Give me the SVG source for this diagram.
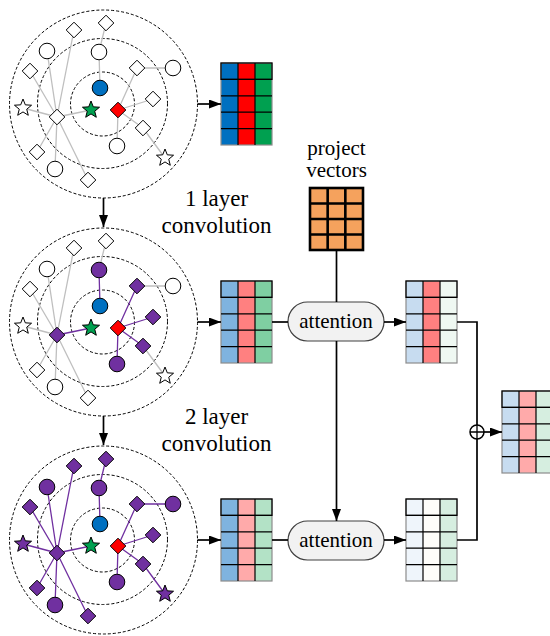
<svg xmlns="http://www.w3.org/2000/svg" xmlns:xlink="http://www.w3.org/1999/xlink" width="550" height="636" viewBox="0 0 550 636">
<style>
.ring{fill:none;stroke:#000;stroke-width:1;stroke-dasharray:3 2}
.eg{fill:none;stroke:#BFBFBF;stroke-width:1.3}
.ep{fill:none;stroke:#7030A0;stroke-width:1.3}
.nw{fill:#fff;stroke:#000;stroke-width:1}
.np{fill:#7030A0;stroke:#000;stroke-width:1}
.nb{fill:#0070C0;stroke:#000;stroke-width:1}
.ng{fill:#00A050;stroke:#000;stroke-width:1}
.nr{fill:#FF0000;stroke:#000;stroke-width:1}
.mout{fill:none;stroke:#8C8C8C;stroke-width:1.2}
.mgrid{fill:none;stroke:#000;stroke-width:1.2}
.conn{fill:none;stroke:#000;stroke-width:1.7}
.lbl{font-family:"Liberation Serif","Times New Roman",serif;fill:#000;text-anchor:middle}
.att{fill:#F2F2F2;stroke:#404040;stroke-width:1.2}
</style>
<defs>
<polygon id="star" points="0,-9 2.3,-3.17 8.56,-2.78 3.73,1.21 5.29,7.28 0,3.92 -5.29,7.28 -3.73,1.21 -8.56,-2.78 -2.3,-3.17"/>
<polygon id="dia" points="0,-7.8 7.8,0 0,7.8 -7.8,0"/>
<marker id="ah" markerWidth="12" markerHeight="9" refX="12" refY="4.5" orient="auto" markerUnits="userSpaceOnUse"><path d="M0,0 L12,4.5 L0,9 z" fill="#000"/></marker>
</defs>

<!-- Graph 0: input -->
<g id="graph-input">
<circle class="ring" cx="103.5" cy="104" r="94"/>
<circle class="ring" cx="102.5" cy="103.5" r="65"/>
<circle class="ring" cx="102.5" cy="104" r="32"/>
<path class="eg" d="M57,117L23,108M57,117L30,71M57,117L47,51M57,117L74,30M57,117L37,152M57,117L55,169M57,117L88,180M57,117L91,110M100,88L99,52M99,52L106,23M118,110L137,68M118,110L153,99M118,110L143,128M118,110L117,146M137,68L173,68M143,128L165,158"/>
<circle class="nw" cx="47" cy="51" r="7.8"/>
<circle class="nw" cx="99" cy="52" r="7.8"/>
<circle class="nw" cx="173" cy="68" r="7.8"/>
<circle class="nw" cx="117" cy="146" r="7.8"/>
<circle class="nw" cx="55" cy="169" r="7.8"/>
<use href="#dia" class="nw" x="74" y="30"/>
<use href="#dia" class="nw" x="106" y="23"/>
<use href="#dia" class="nw" x="30" y="71"/>
<use href="#dia" class="nw" x="137" y="68"/>
<use href="#dia" class="nw" x="153" y="99"/>
<use href="#dia" class="nw" x="143" y="128"/>
<use href="#dia" class="nw" x="37" y="152"/>
<use href="#dia" class="nw" x="88" y="180"/>
<use href="#dia" class="nw" x="57" y="117"/>
<use href="#star" class="nw" x="23" y="108"/>
<use href="#star" class="nw" x="165" y="158"/>
<circle class="nb" cx="100" cy="88" r="7.8"/>
<use href="#star" class="ng" x="91" y="110"/>
<use href="#dia" class="nr" x="118" y="110"/>
</g>

<!-- Graph 1: 1 layer -->
<g id="graph-layer1" transform="translate(0,218)">
<circle class="ring" cx="103.5" cy="104" r="94"/>
<circle class="ring" cx="102.5" cy="103.5" r="65"/>
<circle class="ring" cx="102.5" cy="104" r="32"/>
<path class="eg" d="M57,117L23,108M57,117L30,71M57,117L47,51M57,117L74,30M57,117L37,152M57,117L55,169M57,117L88,180M99,52L106,23M137,68L173,68M143,128L165,158"/>
<path class="ep" d="M57,117L91,110M100,88L99,52M118,110L137,68M118,110L153,99M118,110L143,128M118,110L117,146"/>
<circle class="nw" cx="47" cy="51" r="7.8"/>
<circle class="np" cx="99" cy="52" r="7.8"/>
<circle class="nw" cx="173" cy="68" r="7.8"/>
<circle class="np" cx="117" cy="146" r="7.8"/>
<circle class="nw" cx="55" cy="169" r="7.8"/>
<use href="#dia" class="nw" x="74" y="30"/>
<use href="#dia" class="nw" x="106" y="23"/>
<use href="#dia" class="nw" x="30" y="71"/>
<use href="#dia" class="np" x="137" y="68"/>
<use href="#dia" class="np" x="153" y="99"/>
<use href="#dia" class="np" x="143" y="128"/>
<use href="#dia" class="nw" x="37" y="152"/>
<use href="#dia" class="nw" x="88" y="180"/>
<use href="#dia" class="np" x="57" y="117"/>
<use href="#star" class="nw" x="23" y="108"/>
<use href="#star" class="nw" x="165" y="158"/>
<circle class="nb" cx="100" cy="88" r="7.8"/>
<use href="#star" class="ng" x="91" y="110"/>
<use href="#dia" class="nr" x="118" y="110"/>
</g>

<!-- Graph 2: 2 layer -->
<g id="graph-layer2" transform="translate(0,436)">
<circle class="ring" cx="103.5" cy="104" r="94"/>
<circle class="ring" cx="102.5" cy="103.5" r="65"/>
<circle class="ring" cx="102.5" cy="104" r="32"/>
<path class="ep" d="M57,117L23,108M57,117L30,71M57,117L47,51M57,117L74,30M57,117L37,152M57,117L55,169M57,117L88,180M57,117L91,110M100,88L99,52M99,52L106,23M118,110L137,68M118,110L153,99M118,110L143,128M118,110L117,146M137,68L173,68M143,128L165,158"/>
<circle class="np" cx="47" cy="51" r="7.8"/>
<circle class="np" cx="99" cy="52" r="7.8"/>
<circle class="np" cx="173" cy="68" r="7.8"/>
<circle class="np" cx="117" cy="146" r="7.8"/>
<circle class="np" cx="55" cy="169" r="7.8"/>
<use href="#dia" class="np" x="74" y="30"/>
<use href="#dia" class="np" x="106" y="23"/>
<use href="#dia" class="np" x="30" y="71"/>
<use href="#dia" class="np" x="137" y="68"/>
<use href="#dia" class="np" x="153" y="99"/>
<use href="#dia" class="np" x="143" y="128"/>
<use href="#dia" class="np" x="37" y="152"/>
<use href="#dia" class="np" x="88" y="180"/>
<use href="#dia" class="np" x="57" y="117"/>
<use href="#star" class="np" x="23" y="108"/>
<use href="#star" class="np" x="165" y="158"/>
<circle class="nb" cx="100" cy="88" r="7.8"/>
<use href="#star" class="ng" x="91" y="110"/>
<use href="#dia" class="nr" x="118" y="110"/>
</g>

<!-- Labels -->
<g id="label-layer1">
<text class="lbl" x="216.5" y="206" font-size="23">1 layer</text>
<text class="lbl" x="216.5" y="233" font-size="23">convolution</text>
</g>
<g id="label-layer2">
<text class="lbl" x="216.5" y="424" font-size="23">2 layer</text>
<text class="lbl" x="216.5" y="451" font-size="23">convolution</text>
</g>
<g id="label-project">
<text class="lbl" x="336.5" y="155" font-size="21">project</text>
<text class="lbl" x="336.5" y="177" font-size="21">vectors</text>
</g>

<!-- Matrices -->
<g id="matrix-input" transform="translate(221,63)">
<rect x="0" width="17" height="82" fill="#0070C0"/>
<rect x="17" width="17" height="82" fill="#FF0000"/>
<rect x="34" width="17" height="82" fill="#00A050"/>
<rect class="mout" width="51" height="82"/>
<path class="mgrid" d="M17,0V82M34,0V82M0,16.4H51M0,32.8H51M0,49.2H51M0,65.6H51"/>
<rect class="mgrid" width="51" height="16.4"/>
</g>
<g id="matrix-layer1" transform="translate(221,281)">
<rect x="0" width="17" height="82" fill="#7FB3DF"/>
<rect x="17" width="17" height="82" fill="#FF8080"/>
<rect x="34" width="17" height="82" fill="#7FCFA2"/>
<rect class="mout" width="51" height="82"/>
<path class="mgrid" d="M17,0V82M34,0V82M0,16.4H51M0,32.8H51M0,49.2H51M0,65.6H51"/>
<rect class="mgrid" width="51" height="16.4"/>
</g>
<g id="matrix-layer2" transform="translate(221,499)">
<rect x="0" width="17" height="82" fill="#7FB3DF"/>
<rect x="17" width="17" height="82" fill="#FFAAAA"/>
<rect x="34" width="17" height="82" fill="#B3E2C6"/>
<rect class="mout" width="51" height="82"/>
<path class="mgrid" d="M17,0V82M34,0V82M0,16.4H51M0,32.8H51M0,49.2H51M0,65.6H51"/>
<rect class="mgrid" width="51" height="16.4"/>
</g>
<g id="matrix-att1" transform="translate(406,281)">
<rect x="0" width="17" height="82" fill="#C7DCF0"/>
<rect x="17" width="17" height="82" fill="#FF8080"/>
<rect x="34" width="17" height="82" fill="#EFF8F2"/>
<rect class="mout" width="51" height="82"/>
<path class="mgrid" d="M17,0V82M34,0V82M0,16.4H51M0,32.8H51M0,49.2H51M0,65.6H51"/>
<rect class="mgrid" width="51" height="16.4"/>
</g>
<g id="matrix-att2" transform="translate(406,499)">
<rect x="0" width="17" height="82" fill="#EFF5FB"/>
<rect x="17" width="17" height="82" fill="#FEFDFA"/>
<rect x="34" width="17" height="82" fill="#D6EEE0"/>
<rect class="mout" width="51" height="82"/>
<path class="mgrid" d="M17,0V82M34,0V82M0,16.4H51M0,32.8H51M0,49.2H51M0,65.6H51"/>
<rect class="mgrid" width="51" height="16.4"/>
</g>
<g id="matrix-result" transform="translate(502,391)">
<rect x="0" width="17" height="82" fill="#C7DCF0"/>
<rect x="17" width="17" height="82" fill="#FFAAAA"/>
<rect x="34" width="17" height="82" fill="#D6EEE0"/>
<rect class="mout" width="51" height="82"/>
<path class="mgrid" d="M17,0V82M34,0V82M0,16.4H51M0,32.8H51M0,49.2H51M0,65.6H51"/>
<rect class="mgrid" width="51" height="16.4"/>
</g>
<g id="matrix-project" transform="translate(310,188)">
<rect width="53" height="62" fill="#F5A25D"/>
<path fill="none" stroke="#000" stroke-width="2.6" d="M17.67,0V62M35.33,0V62M0,15.5H53M0,31H53M0,46.5H53"/>
<rect width="53" height="62" fill="none" stroke="#000" stroke-width="2.6"/>
</g>

<!-- Attention -->
<g id="attention1">
<rect class="att" x="288" y="302" width="96" height="39" rx="19.5"/>
<text class="lbl" x="336" y="328" font-size="21">attention</text>
</g>
<g id="attention2">
<rect class="att" x="288" y="521" width="96" height="39" rx="19.5"/>
<text class="lbl" x="336" y="547" font-size="21">attention</text>
</g>

<!-- Plus -->
<g id="plus">
<circle cx="477" cy="432" r="7" fill="#fff" stroke="#000" stroke-width="1.5"/>
<path d="M470,432H484M477,425V439" stroke="#000" stroke-width="1.3"/>
</g>

<!-- Connectors -->
<g id="connectors">
<path class="conn" d="M197.5,104H221" marker-end="url(#ah)"/>
<path class="conn" d="M197.5,322H221" marker-end="url(#ah)"/>
<path class="conn" d="M197.5,540H221" marker-end="url(#ah)"/>
<path class="conn" d="M103.5,198V227" marker-end="url(#ah)"/>
<path class="conn" d="M103.5,416V445" marker-end="url(#ah)"/>
<path class="conn" d="M272,322H288"/>
<path class="conn" d="M272,540H288"/>
<path class="conn" d="M384,322H406" marker-end="url(#ah)"/>
<path class="conn" d="M384,540H406" marker-end="url(#ah)"/>
<path class="conn" d="M336.5,250V302"/>
<path class="conn" d="M336.5,341V521" marker-end="url(#ah)"/>
<path class="conn" d="M457,322H477V425"/>
<path class="conn" d="M457,540H477V439"/>
<path class="conn" d="M484,432H502" marker-end="url(#ah)"/>
</g>
</svg>
